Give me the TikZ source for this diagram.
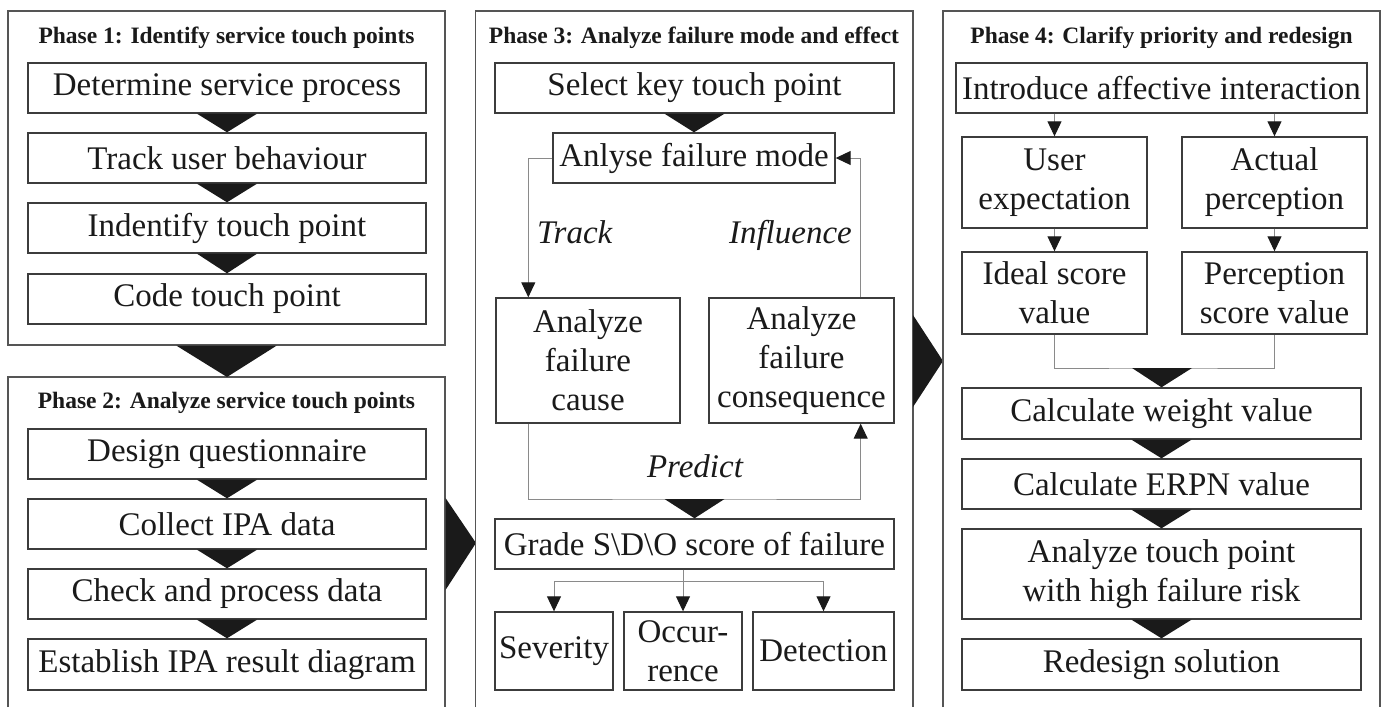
\documentclass[tikz,border=0pt]{standalone}
\usepackage{fontspec}
\setmainfont{Liberation Serif}
\usetikzlibrary{arrows.meta,calc}
\definecolor{ink}{HTML}{1A1A1A}
\definecolor{boxc}{HTML}{3C3C3C}
\definecolor{outc}{HTML}{555555}
\definecolor{linec}{HTML}{8A8A8A}
\newcommand\bodyfnt{\fontsize{33}{39}\selectfont}
\newcommand\ttlfnt{\fontsize{23.5}{28}\selectfont\bfseries}
\begin{document}
\begin{tikzpicture}[x=1pt,y=-1pt,
  outer/.style={draw=outc,line width=1.4pt},
  stepbox/.style={draw=boxc,line width=1.4pt,inner sep=0pt,align=center,text=ink,font=\bodyfnt},
  sz/.style 2 args={minimum width=#1pt,minimum height=#2pt},
  tri/.style={fill=ink},
  conn/.style={draw=linec,line width=1pt,-{Triangle[length=15pt,width=14pt,color=ink,fill=ink]}},
  plain/.style={draw=linec,line width=1pt},
  ttl/.style={font=\ttlfnt,text=ink,anchor=base,inner sep=0pt},
  lbl/.style={font=\bodyfnt\itshape,text=ink,inner sep=0pt}]
\useasboundingbox[fill=white] (0,0) rectangle (1387,707);

% ---------- Phase 1 ----------
\node[outer,sz={437}{334},inner sep=0pt] (ph1) at (226.5,178) {};
\node[ttl] (t1) at (226.5,43) {Phase 1: Identify service touch points};
\node[stepbox,sz={398}{50}] (a1) at (227,88) {Determine service process};
\node[stepbox,sz={398}{50}] (a2) at (227,158) {Track user behaviour};
\node[stepbox,sz={398}{50}] (a3) at (227,228) {Indentify touch point};
\node[stepbox,sz={398}{50}] (a4) at (227,299) {Code touch point};
\foreach \u/\v in {a1/a2,a2/a3,a3/a4}{
  \fill[tri] ($(\u.south)+(-30,0)$) -- ($(\u.south)+(30,0)$) -- (\v.north) -- cycle;}

% ---------- Phase 2 ----------
\coordinate (p2tl) at (8,377);
\draw[outer] (8,707) -- (p2tl) -- (445,377) -- (445,707);
\fill[tri] ($(ph1.south)+(-50,0)$) -- ($(ph1.south)+(50,0)$) -- (227,377) -- cycle;
\node[ttl] (t2) at (226.5,408) {Phase 2: Analyze service touch points};
\node[stepbox,sz={398}{50}] (b1) at (227,454) {Design questionnaire};
\node[stepbox,sz={398}{50}] (b2) at (227,524) {Collect IPA data};
\node[stepbox,sz={398}{50}] (b3) at (227,594) {Check and process data};
\node[stepbox,sz={398}{51}] (b4) at (227,664.5) {Establish IPA result diagram};
\foreach \u/\v in {b1/b2,b2/b3,b3/b4}{
  \fill[tri] ($(\u.south)+(-30,0)$) -- ($(\u.south)+(30,0)$) -- (\v.north) -- cycle;}

% big arrow phase 2 -> phase 3
\fill[tri] (445.5,498) -- (476,543) -- (445.5,590) -- cycle;

% ---------- Phase 3 ----------
\draw[outer] (475.5,707) -- (475.5,11) -- (913,11) -- (913,707);
\node[ttl] (t3) at (694,43) {Phase 3: Analyze failure mode and effect};
\node[stepbox,sz={399}{50}] (sel) at (694.5,88) {Select key touch point};
\node[stepbox,sz={282}{50}] (mode) at (694,158) {Anlyse failure mode};
\fill[tri] ($(sel.south)+(-30,0)$) -- ($(sel.south)+(30,0)$) -- (mode.north) -- cycle;
\node[stepbox,sz={184}{125}] (cause) at (588,360.5) {Analyze\\failure\\cause};
\node[stepbox,sz={185}{125}] (cons) at (801.5,360.5) {Analyze\\failure\\consequence};
\draw[conn] (mode.west) -| ([xshift=33pt]cause.north west);
\draw[conn] ([xshift=-34pt]cons.north east) |- (mode.east);
\node[lbl,anchor=base west] (ltrack) at (537,243) {Track};
\node[lbl,anchor=base east] (linfl) at (852,243) {Influence};
\coordinate (pr) at (694.5,499);
\draw[conn] ([xshift=33pt]cause.south west) |- (pr) -| ([xshift=-34pt]cons.south east);
\node[lbl,anchor=base] (lpred) at (695,477) {Predict};
\node[stepbox,sz={399}{50}] (grade) at (694.5,544) {Grade S\textbackslash D\textbackslash O score of failure};
\fill[tri] ($(pr)+(-30,0)$) -- ($(pr)+(30,0)$) -- (grade.north) -- cycle;
\node[stepbox,sz={118}{78}] (sev) at (554,651) {Severity};
\node[stepbox,sz={118}{78}] (occ) at (683,651) {Occur-\\rence};
\node[stepbox,sz={141}{78}] (det) at (823.5,651) {Detection};
\coordinate (gj) at (683,581);
\draw[plain] (grade.south -| gj) -- (gj);
\draw[plain] (gj -| sev.north) -- (gj -| det.north);
\draw[conn] (gj -| sev.north) -- (sev.north);
\draw[conn] (gj) -- (occ.north);
\draw[conn] (gj -| det.north) -- (det.north);

% big arrow phase 3 -> phase 4
\fill[tri] (913,315) -- (943,361) -- (913,407) -- cycle;

% ---------- Phase 4 ----------
\draw[outer] (943,707) -- (943,11) -- (1380,11) -- (1380,707);
\node[ttl] (t4) at (1161.5,43) {Phase 4: Clarify priority and redesign};
\node[stepbox,sz={411}{50}] (intro) at (1161.5,88) {Introduce affective interaction};
\node[stepbox,sz={185}{91}] (uexp) at (1054.5,182.5) {User\\expectation};
\node[stepbox,sz={185}{91}] (aper) at (1274.5,182.5) {Actual\\perception};
\node[stepbox,sz={185}{82}] (ideal) at (1054.5,293) {Ideal score\\value};
\node[stepbox,sz={185}{82}] (pscore) at (1274.5,293) {Perception\\score value};
\draw[conn] (intro.south -| uexp.north) -- (uexp.north);
\draw[conn] (intro.south -| aper.north) -- (aper.north);
\draw[conn] (uexp.south) -- (ideal.north);
\draw[conn] (aper.south) -- (pscore.north);
\coordinate (jn) at (1162,368);
\draw[plain] (ideal.south) |- (jn) -| (pscore.south);
\node[stepbox,sz={399}{51}] (cw) at (1161.5,413.5) {Calculate weight value};
\node[stepbox,sz={399}{50}] (erpn) at (1161.5,484) {Calculate ERPN value};
\node[stepbox,sz={399}{90}] (atp) at (1161.5,574) {Analyze touch point\\with high failure risk};
\node[stepbox,sz={399}{51}] (red) at (1161.5,664.5) {Redesign solution};
\fill[tri] ($(jn)+(-30,0)$) -- ($(jn)+(30,0)$) -- (cw.north) -- cycle;
\foreach \u/\v in {cw/erpn,erpn/atp,atp/red}{
  \fill[tri] ($(\u.south)+(-30,0)$) -- ($(\u.south)+(30,0)$) -- (\v.north) -- cycle;}
\end{tikzpicture}
\end{document}
